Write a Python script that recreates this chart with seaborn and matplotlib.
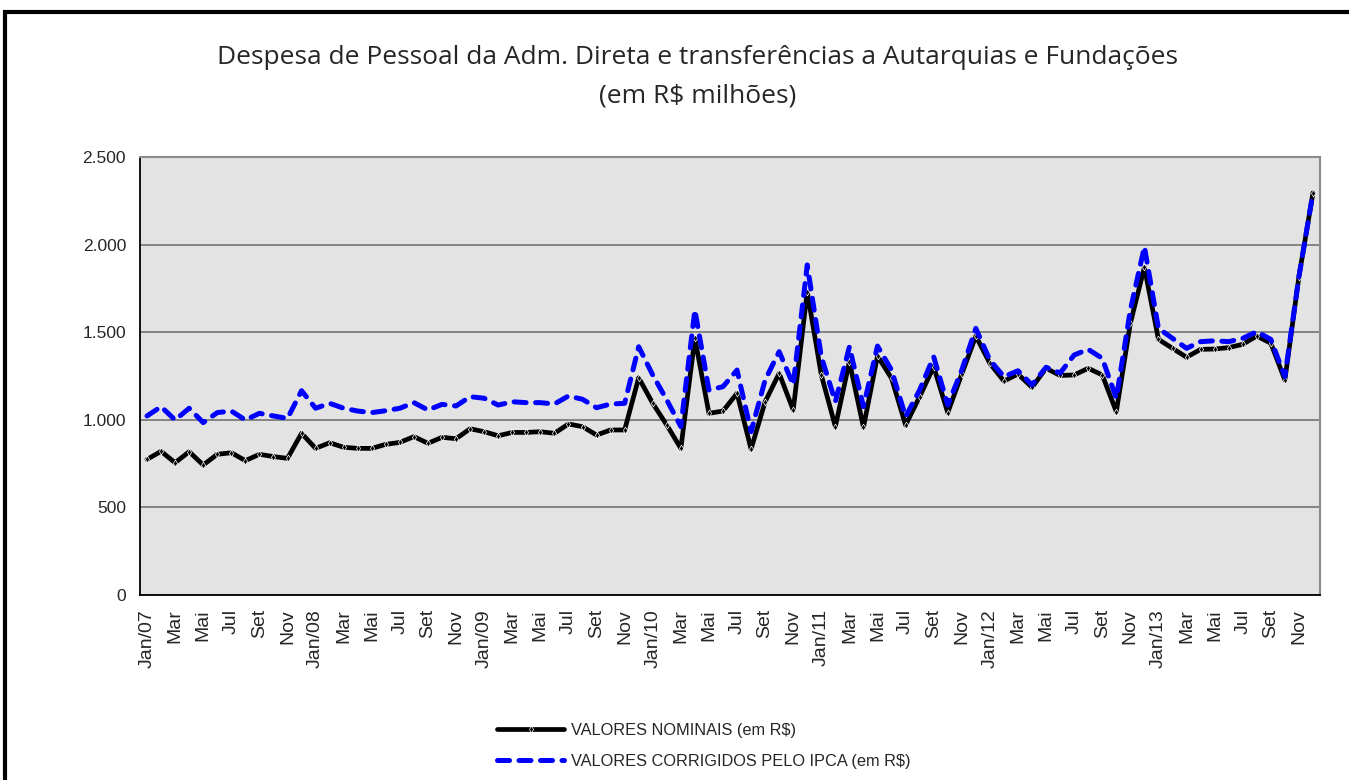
import matplotlib
matplotlib.use("Agg")
import matplotlib.pyplot as plt
import matplotlib.ticker as mticker
from matplotlib.patches import Rectangle
import seaborn as sns
import pandas as pd
import numpy as np

# ---- data (R$ millions), Jan/2007 .. Dec/2013 ----
month_names = ["Jan", "Fev", "Mar", "Abr", "Mai", "Jun", "Jul", "Ago", "Set", "Out", "Nov", "Dez"]
years = ["07", "08", "09", "10", "11", "12", "13"]

nominal = [774, 820, 755, 818, 742, 803, 812, 767, 803, 790, 780, 923,
           837, 869, 843, 837, 837, 860, 871, 904, 866, 900, 892, 949,
           932, 909, 928, 928, 932, 923, 976, 961, 913, 942, 942, 1240,
           1094, 970, 837, 1465, 1037, 1050, 1151, 833, 1103, 1265, 1056, 1731,
           1256, 961, 1332, 957, 1364, 1237, 970, 1132, 1303, 1041, 1261, 1478,
           1322, 1221, 1261, 1185, 1294, 1253, 1256, 1294, 1256, 1046, 1551, 1870,
           1459, 1408, 1357, 1402, 1404, 1412, 1431, 1478, 1437, 1227, 1817, 2296]

ipca = [1022, 1075, 999, 1066, 984, 1041, 1050, 999, 1037, 1022, 1008, 1166,
        1066, 1094, 1066, 1050, 1041, 1052, 1066, 1098, 1056, 1088, 1079, 1132,
        1123, 1084, 1103, 1098, 1098, 1090, 1136, 1117, 1069, 1090, 1094, 1417,
        1256, 1113, 961, 1627, 1170, 1189, 1284, 932, 1227, 1389, 1200, 1884,
        1360, 1103, 1417, 1075, 1421, 1284, 1018, 1170, 1360, 1084, 1284, 1522,
        1341, 1246, 1280, 1199, 1300, 1267, 1370, 1402, 1351, 1123, 1627, 1988,
        1522, 1465, 1408, 1446, 1451, 1446, 1465, 1503, 1459, 1246, 1817, 2296]

labels = []
for y in years:
    for m in month_names:
        labels.append(f"{m}/{y}" if m == "Jan" else m)

series_nom = "VALORES NOMINAIS (em R$)"
series_ipca = "VALORES CORRIGIDOS PELO IPCA (em R$)"

df = pd.DataFrame({"idx": np.arange(len(labels)), "mes": labels,
                   "nominal": nominal, "ipca": ipca})

sns.set_style("white")
plt.rcParams["font.family"] = ["Liberation Sans", "DejaVu Sans"]

fig = plt.figure(figsize=(13.49, 7.80), dpi=100)
ax = fig.add_axes([140 / 1349, 1 - 595 / 780, (1320 - 140) / 1349, (595 - 157) / 780])
ax.set_facecolor("#E3E3E3")

# outer frame
fig.patches.append(Rectangle((5 / 1349, -0.05), 1.1, 1 - 12 / 780 + 0.05,
                             transform=fig.transFigure, fill=False,
                             edgecolor="black", linewidth=3, zorder=0))

sns.lineplot(data=df, x="idx", y="nominal", ax=ax, color="black", linewidth=3.4,
             marker="d", markersize=3.5, markeredgewidth=0.5, label=series_nom, zorder=3)
sns.lineplot(data=df, x="idx", y="ipca", ax=ax, color="#0000FF", linewidth=3.6,
             dashes=False, label=series_ipca, zorder=4)
ln = ax.get_lines()[-1]
ln.set_dashes((2.4, 1.9))
ln.set_dash_capstyle("round")

ax.set_xlim(-0.5, len(labels) - 0.5)
ax.set_ylim(0, 2500)
ax.yaxis.set_major_locator(mticker.MultipleLocator(500))
ax.yaxis.set_major_formatter(mticker.FuncFormatter(lambda v, p: f"{int(v):,}".replace(",", ".")))
ax.grid(axis="y", color="#6a6a6a", linewidth=1.1)
ax.set_axisbelow(True)

# x ticks: marks at category boundaries, labels every second month
ax.set_xticks(np.arange(-0.5, len(labels), 1.0))
ax.set_xticklabels([])
ax.set_xticks(df["idx"][::2], minor=True)
ax.set_xticklabels(df["mes"][::2], minor=True, rotation=90, fontsize=14)
ax.tick_params(axis="x", which="major", direction="inout", length=9, width=1, color="black")
ax.tick_params(axis="x", which="minor", length=0, pad=10)
ax.tick_params(axis="y", direction="out", length=6, width=1, color="black", labelsize=12.5, pad=4)

ax.set_xlabel("")
ax.set_ylabel("")
for s in ["left", "bottom"]:
    ax.spines[s].set_color("black")
    ax.spines[s].set_linewidth(1.3)
for s in ["top", "right"]:
    ax.spines[s].set_color("#8a8a8a")
    ax.spines[s].set_linewidth(1.5)

fig.text(0.517, 1 - 58 / 780, "Despesa de Pessoal da Adm. Direta e transferências a Autarquias e Fundações",
         ha="center", va="center", fontsize=19, family=["Open Sans", "DejaVu Sans"])
fig.text(0.517, 1 - 96 / 780, "(em R$ milhões)",
         ha="center", va="center", fontsize=19, family=["Open Sans", "DejaVu Sans"])

handles, lbls = ax.get_legend_handles_labels()
ax.get_legend().remove()
fig.legend(handles, lbls, loc="center left", bbox_to_anchor=(497 / 1349, 1 - 746 / 780),
           frameon=False, fontsize=11.8, handlelength=4.1, handletextpad=0.4,
           labelspacing=1.0, borderaxespad=0, borderpad=0)

fig.savefig("out.png", dpi=100)
